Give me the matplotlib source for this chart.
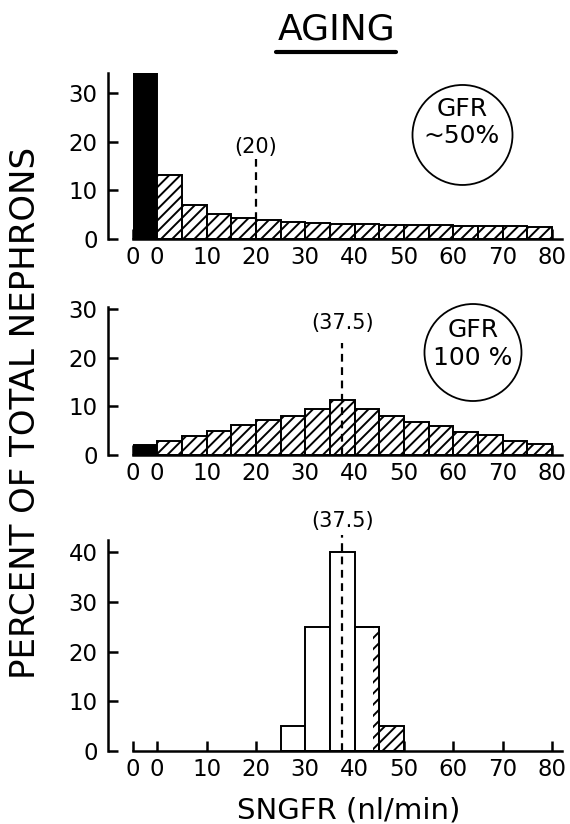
import numpy as np
import matplotlib.pyplot as plt
from matplotlib.patches import Ellipse
from matplotlib.lines import Line2D

plt.rcParams['font.family'] = ['DejaVu Sans']
plt.rcParams['hatch.linewidth'] = 1.4

# SNGFR bins (nl/min), 5 wide; the extra "0" bin sits left of 0
bin_lefts = np.arange(0, 80, 5)
zero_left = -5
bin_w = 5

# top panel: aging, GFR ~50%
aging_zero = 50          # non-filtering nephrons (bar runs off the axis)
aging_vals = [13.2, 7.0, 5.2, 4.4, 4.0, 3.6, 3.2, 3.0, 3.0, 2.9, 2.8, 2.8, 2.7, 2.7, 2.6, 2.5]
aging_median = 20

# middle panel: GFR 100%
normal_zero = 2.0
normal_vals = [2.9, 4.0, 5.0, 6.1, 7.1, 8.0, 9.5, 11.2, 9.4, 8.0, 6.8, 6.0, 4.8, 4.1, 2.8, 2.2]
normal_median = 37.5

# bottom panel: narrow distribution
narrow_lefts = [25, 30, 35, 40]
narrow_vals = [5, 25, 40, 25]
narrow_hatch_lefts = [43.8, 45]
narrow_hatch_widths = [1.2, 5]
narrow_hatch_vals = [25, 5]
narrow_median = 37.5

xticks = [-5, 0, 10, 20, 30, 40, 50, 60, 70, 80]
xticklabels = ['0', '0', '10', '20', '30', '40', '50', '60', '70', '80']

fig = plt.figure(figsize=(5.7, 8.24), dpi=100)

left, width = 0.2325, 0.7535
ax1 = fig.add_axes([left, 0.70995, width, 0.2015])
ax2 = fig.add_axes([left, 0.4478, width, 0.1796])
ax3 = fig.add_axes([left, 0.0886, width, 0.2561])

LW = 1.8
BAR_LW = 1.4
DASH = (0, (3.5, 2.5))


def style(ax, ylim, yticks):
    ax.set_xlim(-5, 82)
    ax.set_ylim(*ylim)
    ax.set_axisbelow(True)
    for s in ['top', 'right']:
        ax.spines[s].set_visible(False)
    ax.spines['left'].set_position(('outward', 18))
    ax.spines['left'].set_linewidth(LW)
    ax.spines['bottom'].set_linewidth(LW)
    ax.set_xticks(xticks)
    ax.set_xticklabels(xticklabels)
    ax.set_yticks(yticks)
    ax.tick_params(axis='x', direction='in', length=7, width=LW, labelsize=16.5, pad=5)
    ax.tick_params(axis='y', direction='in', length=7, width=LW, labelsize=16.5, pad=7)


# --- top ---
ax1.bar([zero_left], [aging_zero], width=bin_w, align='edge', color='black',
        edgecolor='black', linewidth=BAR_LW)
ax1.bar(bin_lefts, aging_vals, width=bin_w, align='edge', color='white',
        edgecolor='black', linewidth=BAR_LW, hatch='///')
style(ax1, (0, 34.2), [0, 10, 20, 30])
ax1.plot([aging_median, aging_median], [aging_vals[4], 16.5], color='black',
         lw=1.6, ls=DASH)
ax1.text(aging_median, 19.0, '(20)', ha='center', va='center', fontsize=15)

# --- middle ---
ax2.bar([zero_left], [normal_zero], width=bin_w, align='edge', color='black',
        edgecolor='black', linewidth=BAR_LW)
ax2.bar(bin_lefts, normal_vals, width=bin_w, align='edge', color='white',
        edgecolor='black', linewidth=BAR_LW, hatch='///')
style(ax2, (0, 30.4), [0, 10, 20, 30])
ax2.plot([normal_median, normal_median], [0, 23.1], color='black',
         lw=1.6, ls=DASH)
ax2.text(normal_median, 27.2, '(37.5)', ha='center', va='center', fontsize=15)

# --- bottom ---
ax3.bar(narrow_lefts, narrow_vals, width=bin_w, align='edge', color='white',
        edgecolor='black', linewidth=BAR_LW)
ax3.bar(narrow_hatch_lefts, narrow_hatch_vals, width=narrow_hatch_widths,
        align='edge', color='white', edgecolor='black', linewidth=0, hatch='///')
ax3.bar(narrow_hatch_lefts[1:], narrow_hatch_vals[1:], width=bin_w, align='edge',
        color='none', edgecolor='black', linewidth=BAR_LW)
ax3.bar(narrow_lefts[-1:], narrow_vals[-1:], width=bin_w, align='edge',
        color='none', edgecolor='black', linewidth=BAR_LW)
style(ax3, (0, 42.5), [0, 10, 20, 30, 40])
ax3.plot([narrow_median, narrow_median], [0, 43.5], color='black',
         lw=1.6, ls=DASH, clip_on=False)
ax3.text(narrow_median, 46.4, '(37.5)', ha='center', va='center', fontsize=15)

# GFR circles
fig.add_artist(Ellipse((0.8114, 0.8362), 100 / 570, 100 / 824, transform=fig.transFigure,
                       facecolor='none', edgecolor='black', lw=1.3))
fig.text(0.810, 0.851, 'GFR\n~50%', ha='center', va='center', fontsize=18,
         linespacing=1.15)
fig.add_artist(Ellipse((0.8298, 0.5722), 97 / 570, 97 / 824, transform=fig.transFigure,
                       facecolor='none', edgecolor='black', lw=1.3))
fig.text(0.8298, 0.5825, 'GFR\n100 %', ha='center', va='center', fontsize=18,
         linespacing=1.2)

# title with underline
fig.text(0.591, 0.964, 'AGING', ha='center', va='center', fontsize=26)
fig.add_artist(Line2D([0.484, 0.695], [0.9375, 0.9375], transform=fig.transFigure,
                      color='black', lw=3, solid_capstyle='round'))

fig.text(0.0439, 0.4994, 'PERCENT OF TOTAL NEPHRONS', rotation=90, ha='center',
         va='center', fontsize=24.5)
fig.text(0.612, 0.0158, 'SNGFR (nl/min)', ha='center', va='center', fontsize=21)

fig.savefig('out.png', dpi=100)
